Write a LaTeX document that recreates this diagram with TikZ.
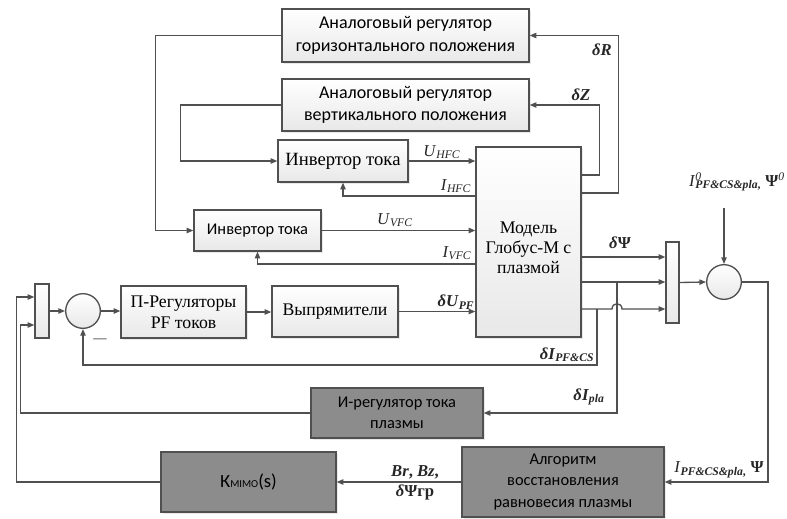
\documentclass[tikz,border=0pt]{standalone}
\usepackage{fontspec}
\setmainfont{Liberation Serif}
\newfontfamily\sansru{Carlito}
\usetikzlibrary{arrows.meta,positioning,calc,shadows}

\definecolor{LineGray}{HTML}{505050}
\definecolor{BoxDark}{HTML}{8C8C8C}

\newcommand{\sfbig}{\sansru\fontsize{13.5}{17}\selectfont}
\newcommand{\sfbox}{\sansru\fontsize{12.3}{16}\selectfont}
\newcommand{\rmbox}{\fontsize{13.3}{15}\selectfont}
\newcommand{\rmlab}{\fontsize{12.5}{15}\selectfont}
\newcommand{\sig}[2]{\textit{#1}\textsubscript{\textit{#2}}}
\newcommand{\bsig}[2]{\textbf{\textit{#1}}\textsubscript{\textbf{\textit{#2}}}}
\newcommand{\dropby}[1]{\rule{0pt}{#1}}

\begin{document}
\begin{tikzpicture}[x=0.75pt,y=-0.75pt,
    blk/.style={draw=LineGray,line width=1pt,top color=white,bottom color=black!9,inner sep=0pt,align=center,
      drop shadow={shadow xshift=1.2pt,shadow yshift=-1.2pt,fill=black!18}},
    dblk/.style={draw=LineGray,line width=1pt,fill=BoxDark,inner sep=0pt,align=center,
      drop shadow={shadow xshift=1.2pt,shadow yshift=-1.2pt,fill=black!18}},
    sumc/.style={circle,draw=LineGray,line width=1pt,top color=white,bottom color=black!9,minimum size=26pt,inner sep=0pt},
    muxbar/.style={draw=LineGray,line width=1pt,top color=white,bottom color=black!9,inner sep=0pt},
    wire/.style={draw=LineGray,line width=1pt},
    arr/.style={wire,-{Triangle[length=5pt,width=4pt]}},
    lab/.style={text=black!85,inner sep=0pt,font=\rmlab}]
\useasboundingbox (0,0) rectangle (787,518);

% position regulators
\node[blk,minimum width=185.25pt,minimum height=39.75pt,font=\sfbig] (hor) at (405.5,35.5) {Аналоговый регулятор\\горизонтального положения};
\node[blk,minimum width=185.25pt,minimum height=39pt,font=\sfbig] (ver) at (405.5,105) {Аналоговый регулятор\\вертикального положения};

% current inverters
\node[blk,minimum width=97.5pt,minimum height=31.5pt,font={\fontsize{14}{15}\selectfont}] (invH) at (343,161) {Инвертор тока};
\node[blk,minimum width=95.25pt,minimum height=30.75pt,font=\sfbox] (invV) at (257.5,230.5) {Инвертор тока};

% plasma model
\node[blk,minimum width=78.75pt,minimum height=142.5pt,font=\rmbox] (model) at (528.5,242) {\dropby{17pt}Модель\\Глобус-М с\\плазмой};

% PF current loop
\node[muxbar,minimum width=10.5pt,minimum height=40.5pt] (muxL) at (42,311) {};
\node[sumc] (sumL) at (83,311) {};
\node[blk,minimum width=93.75pt,minimum height=39pt,font={\fontsize{13.3}{16}\selectfont}] (preg) at (183.5,312) {П-Регуляторы\\PF токов};
\node[blk,minimum width=94.5pt,minimum height=38.25pt,font=\rmbox] (rect) at (335,311.5) {Выпрямители};

% measurement side
\node[muxbar,minimum width=9.75pt,minimum height=60.75pt] (muxR) at (672.5,282.5) {};
\node[sumc] (sumR) at (724,282) {};

% dark blocks
\node[dblk,minimum width=129pt,minimum height=37.5pt,font=\sfbox] (ireg) at (397,413) {И-регулятор тока\\плазмы};
\node[dblk,minimum width=151.5pt,minimum height=52.5pt,font=\sfbox] (alg) at (563,482) {Алгоритм\\восстановления\\равновесия плазмы};
\node[dblk,minimum width=131.25pt,minimum height=45pt,font={\sansru\fontsize{14}{16}\selectfont}] (kmimo) at (248.5,482) {К{\fontsize{8}{8}\selectfont MIMO}(s)};

% port levels on the model
\coordinate (yIH) at (0,196);
\coordinate (yIV) at (0,264);
\coordinate (yDZ) at (0,175);
\coordinate (yDR) at (0,193);
\coordinate (yDP) at (0,257);
\coordinate (yPL) at (0,282);
\coordinate (yPC) at (0,309);
\coordinate (yK) at (0,297);
\coordinate (yI) at (0,325);

% regulators -> inverters
\draw[arr] (hor.west) -- ++(-126,0) |- (invV.west);
\draw[arr] (ver.west) -- ++(-101,0) |- (invH.west);

% inverters <-> model
\draw[arr] (invH.east) -- (invH.east -| model.west);
\draw[arr] (model.west |- yIH) -| (invH.south);
\draw[arr] (invV.east) -- (invV.east -| model.west);
\draw[arr] (model.west |- yIV) -| (invV.south);
\node[lab] (lUH) at (442,152) {\sig{U}{HFC}};
\node[lab] (lIH) at (456,186) {\sig{I}{HFC}};
\node[lab] (lUV) at (395,220) {\sig{U}{VFC}};
\node[lab] (lIV) at (457,253) {\sig{I}{VFC}};

% model outputs to regulators
\draw[arr] (model.east |- yDR) -- ++(37,0) |- (hor.east);
\draw[arr] (model.east |- yDZ) -- ++(18,0) |- (ver.east);
\node[lab] (lR) at (602,50) {\textbf{\textit{δR}}};
\node[lab] (lZ) at (581,95) {\textbf{\textit{δZ}}};

% PF loop
\draw[arr] (muxL.east) -- (sumL.west);
\draw[arr] (sumL.east) -- (sumL.east -| preg.west);
\draw[arr] (preg.east) -- (preg.east -| rect.west);
\draw[arr] (rect.east) -- (rect.east -| model.west);
\node[lab] (lDU) at (456,302) {\bsig{δU}{PF}};
\node[lab] (minus) at (100,341) {\fontsize{10}{10}\selectfont —};

% model outputs to the mux
\draw[arr] (model.east |- yDP) -- (muxR.west |- yDP);
\draw[arr] (model.east |- yPL) -- (muxR.west |- yPL);
\draw[arr] (model.east |- yPC) -- (612,309) .. controls (612,302) and (622,302) .. (622,309) -- (muxR.west |- yPC);
\node[lab] (lDP) at (620,243) {\textbf{\textit{δ}Ψ}};

% feedback of measured currents
\coordinate (jPC) at (597,309);
\coordinate (jPL) at (617,282);
\draw[arr] (jPC) -- ++(0,56) -| (sumL.south);
\draw[arr] (jPL) |- (ireg.east);
\node[lab] (lPC) at (567,355) {\bsig{δI}{PF\&CS}};
\node[lab] (lPL) at (589,397) {\bsig{δI}{pla}};

% reference and equilibrium reconstruction
\coordinate (ref) at (724,208);
\draw[arr] (muxR.east) -- (sumR.west);
\draw[arr] (ref) -- (sumR.north);
\node[lab] (lref) at (737,182) {\textit{I}\rlap{\textsuperscript{\textit{0}}}\textsubscript{\textbf{\textit{PF\&CS\&pla},}} \textbf{Ψ}\textsuperscript{\textit{0}}};
\draw[arr] (sumR.east) -- ++(26,0) |- (alg.east);
\node[lab] (lmeas) at (719,470) {\textit{I}\textsubscript{\textbf{\textit{PF\&CS\&pla},}} \textbf{Ψ}};
\draw[arr] (alg.west) -- (alg.west -| kmimo.east);
\node[lab,align=center] (lB) at (415,483) {\textbf{\textit{Br}, \textit{Bz},}\\\textbf{\textit{δ}Ψгр}};

% back to the left mux
\draw[arr] (kmimo.west) -- ++(-144,0) |- (muxL.west |- yK);
\draw[arr] (ireg.west) -- ++(-290,0) |- (muxL.west |- yI);
\end{tikzpicture}
\end{document}
